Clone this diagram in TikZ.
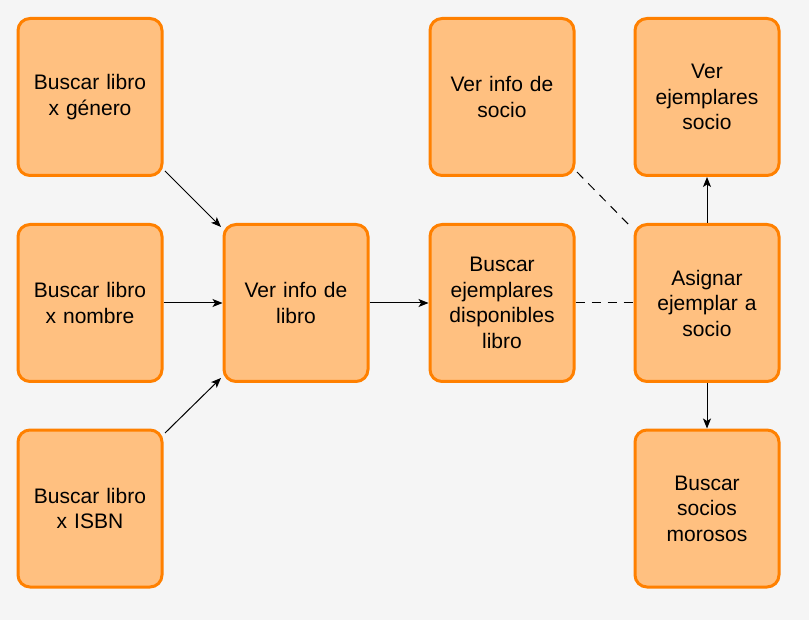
\documentclass[tikz,border=0pt]{standalone}
\usepackage{fontspec}
\setmainfont{Liberation Sans}
\usetikzlibrary{arrows.meta}
\definecolor{bg}{HTML}{F5F5F5}
\definecolor{boxfill}{HTML}{FFC080}
\definecolor{boxline}{HTML}{FF8000}
\tikzset{
  box/.style={draw=boxline, fill=boxfill, line width=3pt, rounded corners=12pt,
    minimum width=144pt, minimum height=157pt, align=center, inner sep=2pt,
    text width=134pt, font=\fontsize{21}{25.5}\selectfont},
  arr/.style={-{Stealth[length=10pt,width=8pt,inset=2.5pt]}, line width=1pt},
  dsh/.style={dash pattern=on 9pt off 7pt, line width=1pt}
}
\begin{document}
\begin{tikzpicture}[x=1pt,y=-1pt]
\fill[bg] (0,0) rectangle (809,620);
\useasboundingbox (0,0) rectangle (809,620);
\node[box] (genero) at (90,97) {Buscar libro\\x género};
\node[box] (nombre) at (90,303) {Buscar libro\\x nombre};
\node[box] (isbn) at (90,508.5) {Buscar libro\\x ISBN};
\node[box] (verlibro) at (296,303) {Ver info de\\libro};
\node[box] (ejdisp) at (502,303) {Buscar\\ejemplares\\disponibles\\libro};
\node[box] (versocio) at (502,97) {Ver info de\\socio};
\node[box] (asignar) at (707,303) {Asignar\\ejemplar a\\socio};
\node[box] (ejsocio) at (707,97) {Ver\\ejemplares\\socio};
\node[box] (morosos) at (707,508.5) {Buscar\\socios\\morosos};
\coordinate (g1) at (165,171);
\coordinate (g2) at (221,227);
\coordinate (i1) at (165,433);
\coordinate (i2) at (221,378);
\coordinate (s1) at (577,172);
\coordinate (s2) at (632,228);
\draw[arr] (g1) -- (g2);
\draw[arr] (nombre.east) -- (verlibro.west);
\draw[arr] (i1) -- (i2);
\draw[arr] (verlibro.east) -- (ejdisp.west);
\draw[dsh] (ejdisp.east) -- (asignar.west);
\draw[dsh] (s1) -- (s2);
\draw[arr] (asignar.north) -- (ejsocio.south);
\draw[arr] (asignar.south) -- (morosos.north);
\end{tikzpicture}
\end{document}
